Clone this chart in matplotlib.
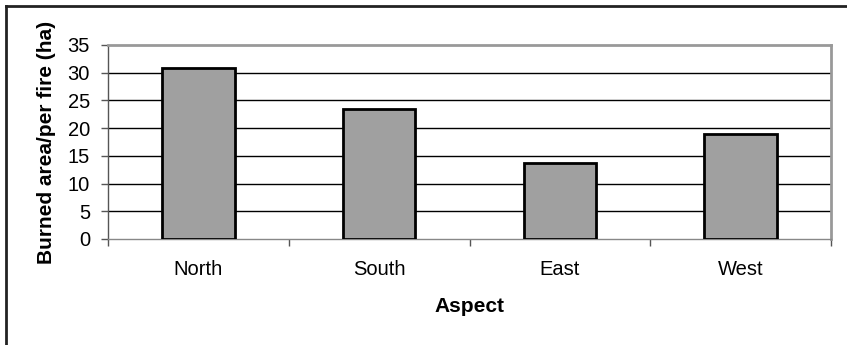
import numpy as np
import matplotlib.pyplot as plt
from matplotlib.lines import Line2D

# Average burned area per fire by slope aspect
aspects = ['North', 'South', 'East', 'West']
burned_area = [30.8, 23.4, 13.8, 18.9]
y_ticks = [0, 5, 10, 15, 20, 25, 30, 35]

plt.rcParams['font.family'] = ['Liberation Sans', 'DejaVu Sans']

fig = plt.figure(figsize=(8.47, 3.45), dpi=100)
ax = fig.add_axes([108 / 847, 1 - 239 / 345, (831 - 108) / 847, (239 - 45) / 345])

x = np.arange(len(aspects))
ax.bar(x, burned_area, width=0.4, color='#a0a0a0', edgecolor='black', linewidth=2, zorder=3)

ax.set_xlim(-0.5, len(aspects) - 0.5)
ax.set_ylim(0, 35)
ax.set_yticks(y_ticks)
ax.set_yticklabels([str(t) for t in y_ticks], fontsize=14.5)
for t in y_ticks[1:-1]:
    ax.axhline(t, color='black', linewidth=1, zorder=1)

# categories on the axis, tick marks between them
ax.set_xticks(x)
ax.set_xticklabels(aspects, fontsize=14.5)
ax.tick_params(axis='x', length=0, pad=15)
ax.set_xticks(np.arange(-0.5, len(aspects)), minor=True)
ax.tick_params(axis='x', which='minor', length=5, width=1, color='#555555', direction='out')
ax.tick_params(axis='y', length=5, width=1, color='#555555', direction='out', pad=8)

for side in ['top', 'right']:
    ax.spines[side].set_color('#999999')
    ax.spines[side].set_linewidth(2)
ax.spines['left'].set_color('#555555')
ax.spines['bottom'].set_color('#888888')
ax.spines['left'].set_linewidth(1)
ax.spines['bottom'].set_linewidth(1)

ax.set_ylabel('Burned area/per fire (ha)', fontsize=15, fontweight='bold')
ax.yaxis.label.set_va('center')
ax.yaxis.set_label_coords((46 - 108) / 723, 0.5)
ax.set_xlabel('Aspect', fontsize=15, fontweight='bold')
ax.xaxis.label.set_va('center')
ax.xaxis.set_label_coords(0.5, (239 - 307) / 194)

# chart frame (left and top edges)
fig.add_artist(Line2D([6 / 847, 6 / 847], [0, 1 - 6 / 345], color='#222222', linewidth=2,
                      transform=fig.transFigure))
fig.add_artist(Line2D([6 / 847, 1], [1 - 6 / 345, 1 - 6 / 345], color='#222222', linewidth=2,
                      transform=fig.transFigure))

fig.savefig('out.png', dpi=100)
